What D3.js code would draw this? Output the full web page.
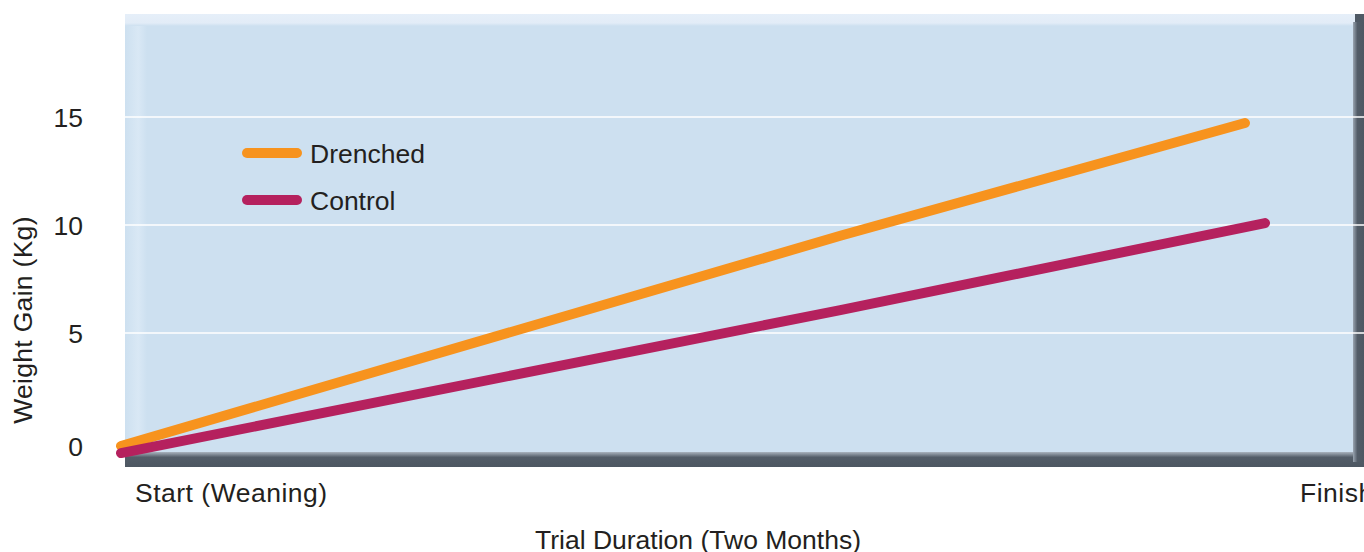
<!DOCTYPE html>
<html>
<head>
<meta charset="utf-8">
<script src="https://cdn.jsdelivr.net/npm/d3@7"></script>
<style>
  html,body{margin:0;padding:0;background:#fff;}
  svg{display:block;font-family:"Liberation Sans",Arial,sans-serif;}
</style>
</head>
<body>
<div id="chart"></div>
<script>
// weeks into the trial (0 = weaning, 8 = finish) and weight gain in kg
let drenchedWeeks=[0,5.03,7.86];
let drenchedGain=[-0.23,9.5,14.72];
let controlWeeks=[0,5.03,8];
let controlGain=[-0.56,6.06,10.09];
let seriesNames=[`Drenched`,`Control`];
let yTicks=[0,5,10,15];
let gridTicks=[5,10,15];
let xTickLabels=[`Start (Weaning)`,`Finish`];

let Setting={
    width:1364,height:552,
    color:{Drenched:`#f7931e`,Control:`#b5215e`},
    bg:`#cde0f0`,
    text:`#231f20`,
    font:`26.5px`
};

let svg=d3.select(`#chart`).append(`svg`)
    .attr(`width`,Setting.width)
    .attr(`height`,Setting.height);

let x=d3.scaleLinear().domain([0,8]).range([121,1265]);
let y=d3.scaleLinear().domain([0,15]).range([441,117]);

//panel with light top/left bevel and dark floor
let defs=svg.append(`defs`);
let gTop=defs.append(`linearGradient`).attr(`id`,`gTop`).attr(`x1`,0).attr(`y1`,0).attr(`x2`,0).attr(`y2`,1);
gTop.append(`stop`).attr(`offset`,`0%`).attr(`stop-color`,`#e6eff9`);
gTop.append(`stop`).attr(`offset`,`75%`).attr(`stop-color`,`#e2ecf7`);
gTop.append(`stop`).attr(`offset`,`100%`).attr(`stop-color`,Setting.bg);
let gLeft=defs.append(`linearGradient`).attr(`id`,`gLeft`).attr(`x1`,0).attr(`y1`,0).attr(`x2`,1).attr(`y2`,0);
gLeft.append(`stop`).attr(`offset`,`0%`).attr(`stop-color`,Setting.bg);
gLeft.append(`stop`).attr(`offset`,`60%`).attr(`stop-color`,`#d9e8f5`);
gLeft.append(`stop`).attr(`offset`,`100%`).attr(`stop-color`,Setting.bg);
let gFloor=defs.append(`linearGradient`).attr(`id`,`gFloor`).attr(`x1`,0).attr(`y1`,0).attr(`x2`,0).attr(`y2`,1);
gFloor.append(`stop`).attr(`offset`,`0%`).attr(`stop-color`,`#aab4bf`);
gFloor.append(`stop`).attr(`offset`,`35%`).attr(`stop-color`,`#535d68`);
gFloor.append(`stop`).attr(`offset`,`100%`).attr(`stop-color`,`#4d5762`);
let gSide=defs.append(`linearGradient`).attr(`id`,`gSide`).attr(`x1`,0).attr(`y1`,0).attr(`x2`,1).attr(`y2`,0);
gSide.append(`stop`).attr(`offset`,`0%`).attr(`stop-color`,`#9aa5b1`);
gSide.append(`stop`).attr(`offset`,`40%`).attr(`stop-color`,`#535d68`);
gSide.append(`stop`).attr(`offset`,`100%`).attr(`stop-color`,`#4d5762`);

let panel=svg.append(`g`).attr(`class`,`panel`);
panel.append(`rect`).attr(`x`,125).attr(`y`,14).attr(`width`,1239).attr(`height`,453).attr(`fill`,`#4f5964`);
panel.append(`rect`).attr(`x`,125).attr(`y`,14).attr(`width`,1230).attr(`height`,441).attr(`fill`,Setting.bg);
panel.append(`rect`).attr(`x`,125).attr(`y`,14).attr(`width`,1230).attr(`height`,12).attr(`fill`,`url(#gTop)`);
panel.append(`rect`).attr(`x`,125).attr(`y`,26).attr(`width`,22).attr(`height`,429).attr(`fill`,`url(#gLeft)`);
panel.append(`rect`).attr(`x`,125).attr(`y`,452).attr(`width`,1239).attr(`height`,15).attr(`fill`,`url(#gFloor)`);
panel.append(`rect`).attr(`x`,1353).attr(`y`,22).attr(`width`,11).attr(`height`,440).attr(`fill`,`url(#gSide)`);

//grid lines
svg.append(`g`).attr(`class`,`grid`)
    .selectAll(`line`).data(gridTicks).enter().append(`line`)
    .attr(`x1`,125).attr(`x2`,1364)
    .attr(`y1`,d=>y(d)).attr(`y2`,d=>y(d))
    .attr(`stroke`,`#ffffff`).attr(`stroke-width`,1.6);

//y axis labels
let yAxis=svg.append(`g`).attr(`class`,`y axis`)
    .attr(`transform`,`translate(83,0)`)
    .call(d3.axisLeft(y).tickValues(yTicks).tickSize(0).tickPadding(0));
yAxis.select(`.domain`).remove();
yAxis.selectAll(`text`)
    .attr(`fill`,Setting.text)
    .style(`font-size`,Setting.font)
    .style(`font-family`,`"Liberation Sans",Arial,sans-serif`)
    .attr(`dy`,d=>d==0?`0.55em`:`0.36em`);

svg.append(`text`)
    .attr(`transform`,`translate(32,320) rotate(-90)`)
    .attr(`text-anchor`,`middle`)
    .attr(`fill`,Setting.text)
    .style(`font-size`,Setting.font)
    .style(`letter-spacing`,`0.3px`)
    .text(`Weight Gain (Kg)`);

//x labels
svg.append(`g`).attr(`class`,`x axis`)
    .selectAll(`text`).data(xTickLabels).enter().append(`text`)
    .attr(`x`,(d,i)=>i==0?x(0)+14:x(8)+35)
    .attr(`y`,502)
    .attr(`fill`,Setting.text)
    .style(`font-size`,Setting.font)
    .style(`letter-spacing`,`0.5px`)
    .text(d=>d);

svg.append(`text`)
    .attr(`x`,698).attr(`y`,549)
    .attr(`text-anchor`,`middle`)
    .attr(`fill`,Setting.text)
    .style(`font-size`,Setting.font)
    .text(`Trial Duration (Two Months)`);

//lines
let lineData=[
    {type:`Drenched`,values:drenchedWeeks.map((w,i)=>({week:w,value:drenchedGain[i]}))},
    {type:`Control`,values:controlWeeks.map((w,i)=>({week:w,value:controlGain[i]}))}
];
let valueline=d3.line().x(d=>x(d.week)).y(d=>y(d.value));

svg.append(`g`).attr(`class`,`line graph`)
    .selectAll(`path`).data(lineData).enter().append(`path`)
    .attr(`d`,d=>valueline(d.values))
    .attr(`fill`,`none`)
    .attr(`stroke`,d=>Setting.color[d.type])
    .attr(`stroke-width`,10)
    .attr(`stroke-linecap`,`round`)
    .attr(`stroke-linejoin`,`round`);

//legend
let legend=svg.append(`g`).attr(`class`,`legend`)
    .selectAll(`g`).data(seriesNames).enter().append(`g`)
    .attr(`transform`,(d,i)=>`translate(0,${153+i*47})`);
legend.append(`line`)
    .attr(`x1`,247).attr(`x2`,297).attr(`y1`,0).attr(`y2`,0)
    .attr(`stroke`,d=>Setting.color[d])
    .attr(`stroke-width`,10)
    .attr(`stroke-linecap`,`round`);
legend.append(`text`)
    .attr(`x`,310).attr(`y`,0).attr(`dy`,`0.36em`)
    .attr(`fill`,Setting.text)
    .style(`font-size`,Setting.font)
    .text(d=>d);
</script>
</body>
</html>
